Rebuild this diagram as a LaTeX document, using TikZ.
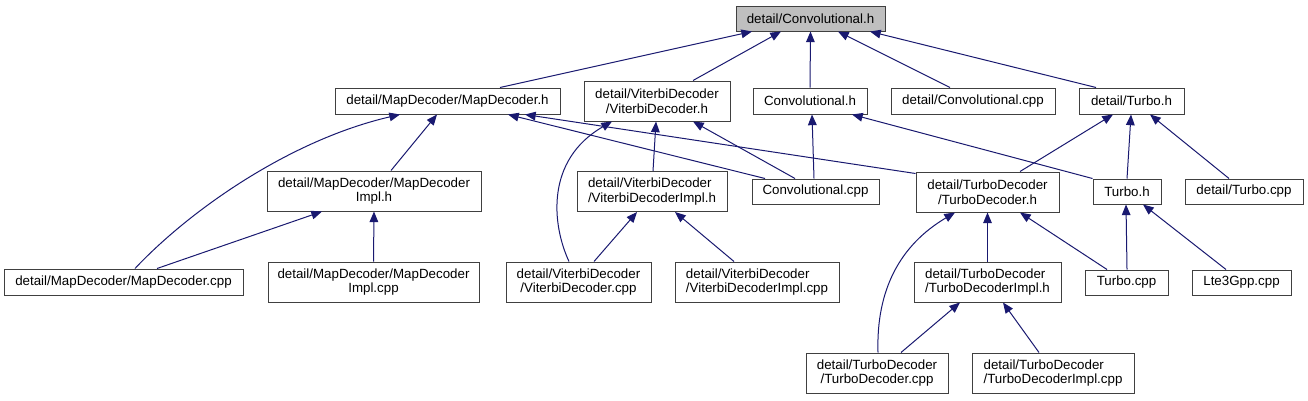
\documentclass[tikz,border=0pt]{standalone}
\usepackage{fontspec}
\setmainfont{Liberation Sans}
\usetikzlibrary{arrows.meta,calc}
\definecolor{edgecol}{HTML}{191970}
\definecolor{boxline}{HTML}{404040}
\definecolor{rootfill}{HTML}{BFBFBF}
\begin{document}
\begin{tikzpicture}[x=0.75pt,y=-0.75pt,
  box/.style={draw=boxline,line width=0.75pt,fill=white,inner sep=0pt,align=center,font=\fontsize{10}{11}\selectfont},
  sz/.style 2 args={minimum width=#1*0.75pt,minimum height=#2*0.75pt},
  dep/.style={draw=edgecol,line width=0.75pt,-{Triangle[length=8pt,width=6.5pt,fill=edgecol]}}]
\useasboundingbox[fill=white] (0,0) rectangle (1308,400);

\node[box,fill=rootfill,sz={149}{25}] (convh) at (810.5,18.5) {detail/Convolutional.h};
\node[box,sz={225}{26}] (mapdech) at (447.5,101) {detail/MapDecoder/MapDecoder.h};
\node[box,sz={146}{40}] (vith) at (657,101) {detail/ViterbiDecoder\\/ViterbiDecoder.h};
\node[box,sz={114}{26}] (conv2h) at (810,101) {Convolutional.h};
\node[box,sz={164}{26}] (dconvcpp) at (973,101) {detail/Convolutional.cpp};
\node[box,sz={105}{26}] (dturboh) at (1131.5,101) {detail/Turbo.h};

\node[box,sz={214}{40}] (mapimplh) at (374,191) {detail/MapDecoder/MapDecoder\\Impl.h};
\node[box,align=left,sz={150}{40}] (vitimplh) at (652,191.5) {detail/ViterbiDecoder\\/ViterbiDecoderImpl.h};
\node[box,sz={127}{25}] (convcpp) at (815.5,191.5) {Convolutional.cpp};
\node[box,sz={143}{40}] (turbodech) at (987.5,192) {detail/TurboDecoder\\/TurboDecoder.h};
\node[box,sz={68}{25}] (turboh) at (1127,191.5) {Turbo.h};
\node[box,sz={118}{25}] (dturbocpp) at (1244,191.5) {detail/Turbo.cpp};

\node[box,sz={239}{26}] (mapdeccpp) at (123.5,282) {detail/MapDecoder/MapDecoder.cpp};
\node[box,sz={211}{40}] (mapimplcpp) at (373.5,282) {detail/MapDecoder/MapDecoder\\Impl.cpp};
\node[box,sz={145}{40}] (vitcpp) at (578.5,282) {detail/ViterbiDecoder\\/ViterbiDecoder.cpp};
\node[box,align=left,sz={164}{40}] (vitimplcpp) at (757,282) {detail/ViterbiDecoder\\/ViterbiDecoderImpl.cpp};
\node[box,align=left,sz={147}{40}] (turboimplh) at (987.5,282) {detail/TurboDecoder\\/TurboDecoderImpl.h};
\node[box,sz={83}{25}] (turbocpp) at (1126.5,282.5) {Turbo.cpp};
\node[box,sz={99}{25}] (ltecpp) at (1241.5,282.5) {Lte3Gpp.cpp};

\node[box,sz={142}{40}] (turbodeccpp) at (877,373) {detail/TurboDecoder\\/TurboDecoder.cpp};
\node[box,align=left,sz={162}{40}] (turboimplcpp) at (1053,373) {detail/TurboDecoder\\/TurboDecoderImpl.cpp};

% edges to detail/Convolutional.h
\draw[dep] ($(mapdech.north)+(52.5,0)$) -- ($(convh.south)+(-58.5,0)$);
\draw[dep] ($(vith.north)+(36,0)$) -- ($(convh.south)+(-29.5,0)$);
\draw[dep] (conv2h.north) -- (convh.south);
\draw[dep] ($(dconvcpp.north)+(-23,0)$) -- ($(convh.south)+(27.5,0)$);
\draw[dep] ($(dturboh.north)+(-35.5,0)$) -- ($(convh.south)+(59.5,0)$);

% edges to MapDecoder.h
\draw[dep] ($(mapimplh.north)+(17,0)$) -- ($(mapdech.south)+(-10.5,0)$);
\draw[dep] ($(mapdeccpp.north)+(11.5,0)$) .. controls (190,210) and (290,140) .. ($(mapdech.south)+(-47.5,0)$);
\draw[dep] ($(convcpp.north)+(-50.5,0)$) -- ($(mapdech.south)+(60.5,0)$);
\draw[dep] ($(turbodech.north west)+(0,2)$) -- ($(mapdech.south)+(77.5,0)$);

% edges to MapDecoderImpl.h
\draw[dep] ($(mapdeccpp.north)+(33.5,0)$) -- ($(mapimplh.south)+(-52,0)$);
\draw[dep] (mapimplcpp.north) -- (mapimplh.south);

% edges to ViterbiDecoder.h
\draw[dep] ($(vitimplh.north)+(1,0)$) -- ($(vith.south)+(-1,0)$);
\draw[dep] ($(vitcpp.north)+(-9.5,0)$) .. controls (552,225) and (545,160) .. ($(vith.south)+(-45,0)$);
\draw[dep] ($(convcpp.north)+(-20.5,0)$) -- ($(vith.south)+(36,0)$);

% edges to ViterbiDecoderImpl.h
\draw[dep] ($(vitcpp.north)+(15.5,0)$) -- ($(vitimplh.south)+(-15,0)$);
\draw[dep] ($(vitimplcpp.north)+(-23,0)$) -- ($(vitimplh.south)+(23,0)$);

% edges to Convolutional.h
\draw[dep] ($(convcpp.north)+(-1.5,0)$) -- ($(conv2h.south)+(2,0)$);
\draw[dep] (turboh.north west) -- ($(conv2h.south)+(42,0)$);

% edges to detail/Turbo.h
\draw[dep] ($(turbodech.north)+(32.5,0)$) -- ($(dturboh.south)+(-18.5,0)$);
\draw[dep] (turboh.north) -- ($(dturboh.south)+(-0.5,0)$);
\draw[dep] ($(dturbocpp.north)+(-15,0)$) -- ($(dturboh.south)+(18.5,0)$);

% edges to TurboDecoder.h
\draw[dep] (turboimplh.north) -- (turbodech.south);
\draw[dep] ($(turbodeccpp.north)+(1,0)$) .. controls (876,290) and (900,245) .. ($(turbodech.south)+(-32.5,0)$);
\draw[dep] ($(turbocpp.north)+(-19.5,0)$) -- ($(turbodech.south)+(32.5,0)$);

% edges to Turbo.h
\draw[dep] ($(turbocpp.north)+(0.5,0)$) -- ($(turboh.south)+(-1,0)$);
\draw[dep] ($(ltecpp.north)+(-15.5,0)$) -- ($(turboh.south)+(16,0)$);

% edges to TurboDecoderImpl.h
\draw[dep] ($(turbodeccpp.north)+(24,0)$) -- ($(turboimplh.south)+(-27.5,0)$);
\draw[dep] ($(turboimplcpp.north)+(-14,0)$) -- ($(turboimplh.south)+(15.5,0)$);
\end{tikzpicture}
\end{document}
